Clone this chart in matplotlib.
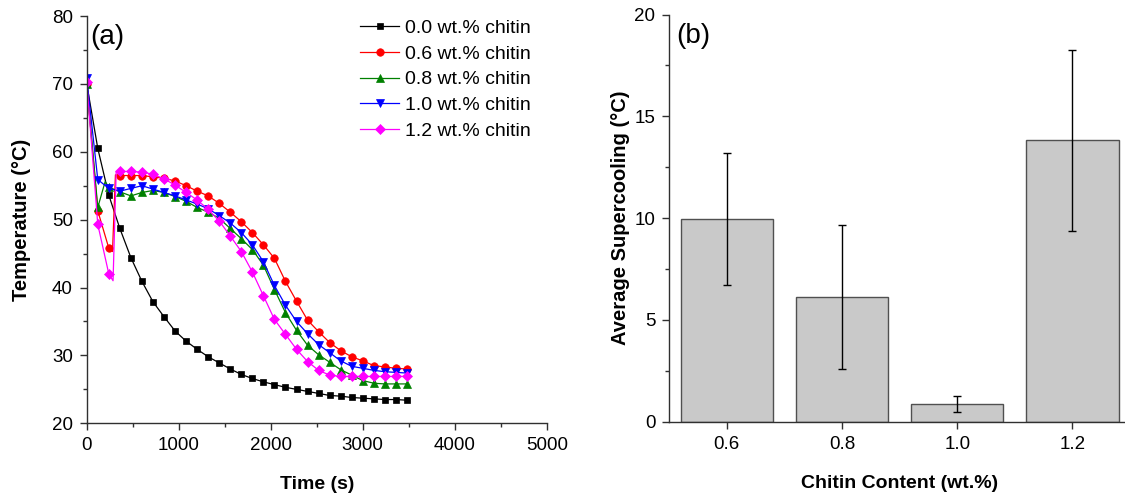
import matplotlib
matplotlib.use("Agg")
import matplotlib.pyplot as plt
from matplotlib.ticker import MultipleLocator

plt.rcParams['font.family'] = ['Liberation Sans', 'DejaVu Sans']

# ---------------- data: panel (a) ----------------
time_s = [0, 120, 240, 360, 480, 600, 720, 840, 960, 1080, 1200, 1320, 1440, 1560,
          1680, 1800, 1920, 2040, 2160, 2280, 2400, 2520, 2640, 2760, 2880, 3000,
          3120, 3240, 3360, 3480]

temp_00 = [70.0, 60.5, 53.6, 48.7, 44.4, 40.9, 37.9, 35.7, 33.6, 32.1, 30.9, 29.8, 28.9, 28.0,
           27.2, 26.6, 26.1, 25.7, 25.3, 25.0, 24.7, 24.4, 24.1, 24.0, 23.8, 23.7,
           23.6, 23.5, 23.5, 23.4]
temp_06 = [70.0, 51.3, 45.8, 56.5, 56.5, 56.5, 56.3, 56.1, 55.7, 55.0, 54.2, 53.5, 52.4, 51.1,
           49.7, 48.1, 46.3, 44.3, 40.9, 38.0, 35.2, 33.5, 31.9, 30.7, 29.8, 29.2,
           28.5, 28.3, 28.1, 28.0]
temp_08 = [70.0, 51.8, 54.8, 54.1, 53.5, 54.0, 54.3, 54.0, 53.4, 52.7, 51.8, 51.1, 50.2, 48.7,
           47.2, 45.6, 43.3, 39.7, 36.3, 33.7, 31.5, 30.1, 29.0, 27.9, 27.1, 26.3,
           25.9, 25.8, 25.8, 25.8]
temp_10 = [70.8, 55.9, 54.6, 54.2, 54.6, 55.0, 54.5, 54.0, 53.5, 52.9, 52.3, 51.6, 50.6, 49.5,
           48.1, 46.3, 43.8, 40.3, 37.4, 35.0, 33.2, 31.6, 30.4, 29.2, 28.4, 28.1,
           27.8, 27.6, 27.5, 27.4]
temp_12 = [70.3, 49.3, 42.0, 57.1, 57.1, 57.0, 56.7, 56.0, 55.1, 54.0, 52.9, 51.5, 49.8, 47.6,
           45.3, 42.3, 38.8, 35.3, 33.1, 30.9, 29.1, 27.8, 27.1, 26.9, 26.9, 26.9,
           26.9, 26.9, 26.9, 26.9]

# extra recorded points (no marker) around the nucleation jump
jump_t_06 = [280, 312]
jump_T_06 = [45.3, 56.6]
jump_t_08 = [200]
jump_T_08 = [55.6]
jump_t_10 = []
jump_T_10 = []
jump_t_12 = [286, 320]
jump_T_12 = [41.0, 57.0]
jump_t_00 = []
jump_T_00 = []

series_labels = ['0.0 wt.% chitin', '0.6 wt.% chitin', '0.8 wt.% chitin',
                 '1.0 wt.% chitin', '1.2 wt.% chitin']

# ---------------- data: panel (b) ----------------
chitin_content = [0.6, 0.8, 1.0, 1.2]
chitin_labels = ['0.6', '0.8', '1.0', '1.2']
supercooling = [9.95, 6.12, 0.87, 13.82]
supercooling_err = [3.23, 3.52, 0.38, 4.46]

# ---------------- figure ----------------
fig = plt.figure(figsize=(11.25, 4.97), dpi=100)
ax1 = fig.add_axes([0.0771, 0.1483, 0.4089, 0.8195])
ax2 = fig.add_axes([0.5949, 0.1515, 0.4096, 0.8193])

styles = [
    (temp_00, jump_t_00, jump_T_00, '#000000', 's', 4.8),
    (temp_06, jump_t_06, jump_T_06, '#FF0000', 'o', 5.4),
    (temp_08, jump_t_08, jump_T_08, '#008000', '^', 5.8),
    (temp_10, jump_t_10, jump_T_10, '#0000FF', 'v', 5.8),
    (temp_12, jump_t_12, jump_T_12, '#FF00FF', 'D', 4.8),
]

for (temps, jt, jT, color, marker, ms), label in zip(styles, series_labels):
    pts = [(t, T, True) for t, T in zip(time_s, temps)] + [(t, T, False) for t, T in zip(jt, jT)]
    pts.sort(key=lambda p: p[0])
    xs = [p[0] for p in pts]
    ys = [p[1] for p in pts]
    mk = [i for i, p in enumerate(pts) if p[2]]
    ax1.plot(xs, ys, color=color, lw=0.9, marker=marker, markersize=ms,
             markevery=mk, markeredgewidth=0.5, markeredgecolor=color, label=label)

ax1.set_xlim(0, 5000)
ax1.set_ylim(20, 80)
ax1.xaxis.set_major_locator(MultipleLocator(1000))
ax1.xaxis.set_minor_locator(MultipleLocator(500))
ax1.yaxis.set_major_locator(MultipleLocator(10))
ax1.yaxis.set_minor_locator(MultipleLocator(5))
ax1.set_xlabel('Time (s)', fontsize=14, fontweight='bold', labelpad=16)
ax1.set_ylabel('Temperature (°C)', fontsize=14.5, fontweight='bold', labelpad=15)
ax1.text(0.007, 0.948, '(a)', transform=ax1.transAxes, fontsize=20, ha='left', va='center')
leg = ax1.legend(loc='upper right', bbox_to_anchor=(0.965, 0.992), frameon=False, fontsize=14,
                 handlelength=2.0, handletextpad=0.3, labelspacing=0.42, borderaxespad=0.0,
                 borderpad=0.0)

# panel (b)
ax2.bar(chitin_content, supercooling, width=0.16, color='#C9C9C9', edgecolor='#505050',
        linewidth=1.0, zorder=2)
ax2.errorbar(chitin_content, supercooling, yerr=supercooling_err, fmt='none', ecolor='#000000',
             elinewidth=1.0, capsize=3, capthick=1.0, zorder=3)
ax2.set_xlim(0.5, 1.3)
ax2.set_ylim(0, 20)
ax2.set_xticks(chitin_content)
ax2.set_xticklabels(chitin_labels)
ax2.yaxis.set_major_locator(MultipleLocator(5))
ax2.yaxis.set_minor_locator(MultipleLocator(2.5))
ax2.set_xlabel('Chitin Content (wt.%)', fontsize=14, fontweight='bold', labelpad=16)
ax2.set_ylabel('Average Supercooling (°C)', fontsize=14.5, fontweight='bold', labelpad=3)
ax2.text(0.015, 0.948, '(b)', transform=ax2.transAxes, fontsize=20, ha='left', va='center')

for ax in (ax1, ax2):
    ax.spines['top'].set_visible(False)
    ax.spines['right'].set_visible(False)
    for s in ('left', 'bottom'):
        ax.spines[s].set_linewidth(1.0)
        ax.spines[s].set_color('#303030')
    ax.tick_params(which='major', direction='out', length=5, width=1.0, labelsize=13.5,
                   color='#303030', pad=5)
    ax.tick_params(which='minor', direction='out', length=3, width=1.0, color='#303030')

ax2.tick_params(axis='x', which='minor', length=0)

fig.savefig('out.png', dpi=100)
